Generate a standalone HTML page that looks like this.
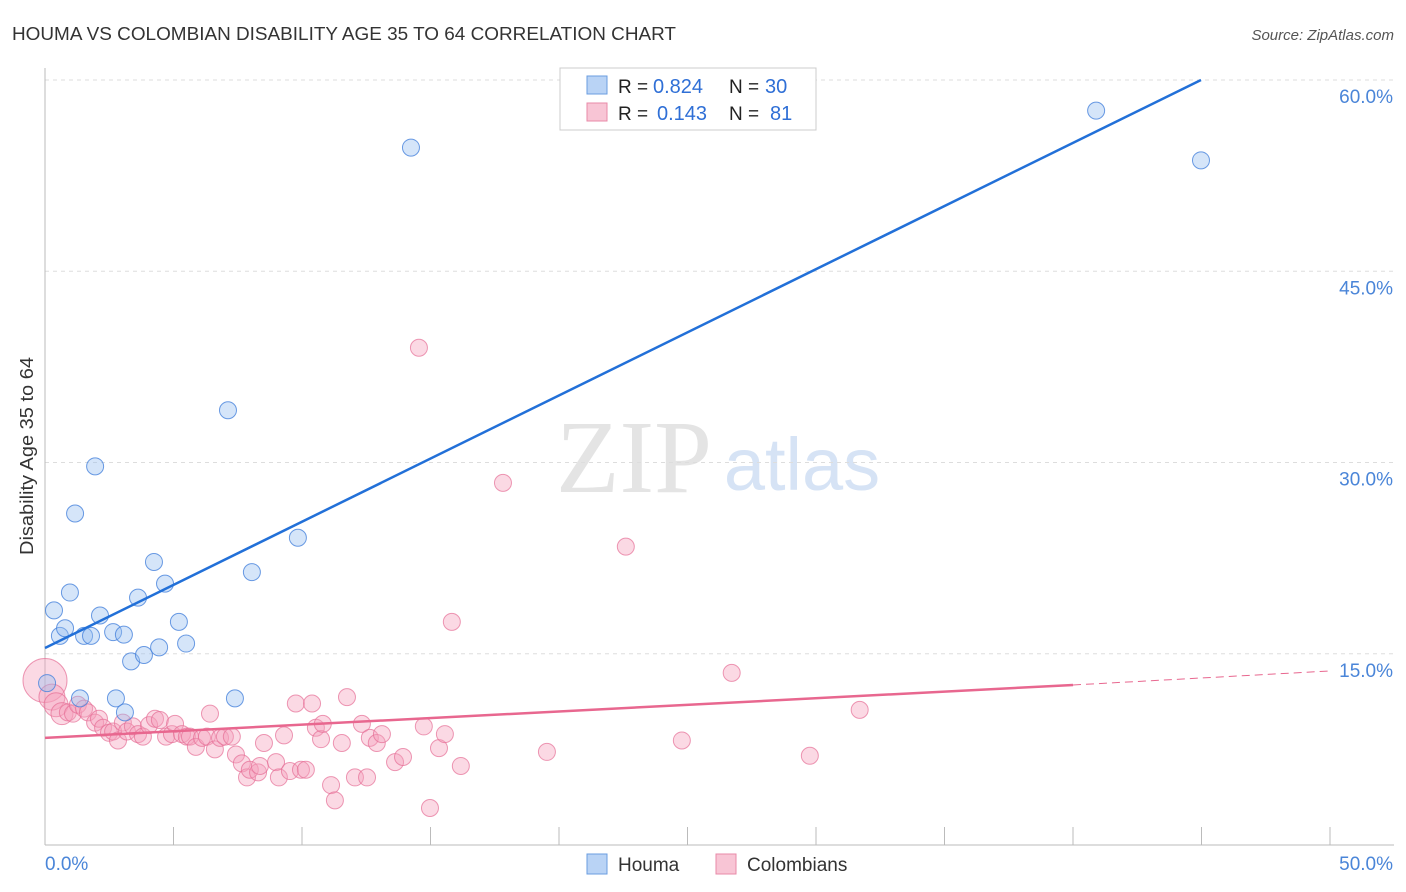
<!DOCTYPE html>
<html><head><meta charset="utf-8"><style>
body{margin:0;background:#fff;font-family:"Liberation Sans",sans-serif;}
svg{display:block}
</style></head><body>
<svg id="chart" width="1406" height="892">
<text x="12" y="40" font-size="18" fill="#333" textLength="664" lengthAdjust="spacingAndGlyphs">HOUMA VS COLOMBIAN DISABILITY AGE 35 TO 64 CORRELATION CHART</text>
<text x="1394" y="40" font-size="15" fill="#555" font-style="italic" text-anchor="end">Source: ZipAtlas.com</text>
<text x="634" y="492" font-size="104" fill="#e4e4e4" font-family="Liberation Serif,serif" text-anchor="middle">ZIP</text>
<text x="802" y="490" font-size="74" fill="#d6e3f5" text-anchor="middle">atlas</text>
<text transform="translate(33,456) rotate(-90)" font-size="18" fill="#333" text-anchor="middle" textLength="198" lengthAdjust="spacingAndGlyphs">Disability Age 35 to 64</text>
<g id="grid"></g><g id="axes"></g><g id="marks"></g>
<g>
<rect x="560" y="68" width="256" height="62" fill="#fff" stroke="#ccc"/>
<rect x="587" y="76" width="20" height="18" fill="#b9d3f5" stroke="#6a9de0"/>
<rect x="587" y="103" width="20" height="18" fill="#f8c5d5" stroke="#e88aa8"/>
<text x="618" y="93" font-size="19" fill="#222">R =</text>
<text x="653" y="93" font-size="20" fill="#2f6fd6">0.824</text>
<text x="729" y="93" font-size="19" fill="#222">N =</text>
<text x="765" y="93" font-size="20" fill="#2f6fd6">30</text>
<text x="618" y="120" font-size="19" fill="#222">R =</text>
<text x="657" y="120" font-size="20" fill="#2f6fd6">0.143</text>
<text x="729" y="120" font-size="19" fill="#222">N =</text>
<text x="770" y="120" font-size="20" fill="#2f6fd6">81</text>
</g>
<g>
<rect x="587" y="854" width="20" height="20" fill="#b9d3f5" stroke="#6a9de0"/>
<text x="618" y="871" font-size="19" fill="#333">Houma</text>
<rect x="716" y="854" width="20" height="20" fill="#f8c5d5" stroke="#e88aa8"/>
<text x="747" y="871" font-size="19" fill="#333">Colombians</text>
</g>
</svg>
<script>
const houmaX=[0.08,0.35,0.58,0.78,0.97,1.17,1.36,1.52,1.79,1.95,2.14,2.65,2.76,3.07,3.11,3.35,3.62,3.85,4.24,4.44,4.67,5.21,5.49,7.12,7.39,8.05,9.84,14.24,40.9,44.98];
const houmaY=[12.7,18.4,16.4,17.0,19.8,26.0,11.5,16.4,16.4,29.7,18.0,16.7,11.5,16.5,10.4,14.4,19.4,14.9,22.2,15.5,20.5,17.5,15.8,34.1,11.5,21.4,24.1,54.7,57.6,53.7];
const colX=[0,0.27,0.43,0.66,0.89,1.09,1.28,1.52,1.67,1.95,2.10,2.26,2.49,2.65,2.84,3.03,3.19,3.42,3.62,3.81,4.05,4.28,4.47,4.71,4.94,5.06,5.33,5.52,5.64,5.87,6.11,6.30,6.42,6.61,6.81,7.00,7.27,7.43,7.66,7.86,7.97,8.29,8.36,8.52,8.99,9.10,9.30,9.53,9.76,9.96,10.15,10.39,10.54,10.74,10.81,11.13,11.28,11.55,11.75,12.06,12.33,12.53,12.64,12.91,13.11,13.62,13.93,14.55,14.74,14.98,15.33,15.56,16.18,15.83,17.82,19.53,22.60,24.78,26.72,29.76,31.70];
const colY=[12.9,11.6,11.0,10.3,10.4,10.3,11.0,10.7,10.4,9.6,9.9,9.2,8.8,8.9,8.2,9.6,8.9,9.3,8.7,8.5,9.4,9.9,9.8,8.5,8.7,9.5,8.7,8.5,8.5,7.7,8.4,8.5,10.3,7.5,8.4,8.5,8.5,7.1,6.4,5.3,5.9,5.7,6.2,8.0,6.5,5.3,8.6,5.8,11.1,5.9,5.9,11.1,9.2,8.3,9.5,4.7,3.5,8.0,11.6,5.3,9.5,5.3,8.4,8.0,8.7,6.5,6.9,39.0,9.3,2.9,7.6,8.7,6.2,17.5,28.4,7.3,23.4,8.2,13.5,7.0,10.6];
const colSize=[22,13,12,11];
const yTicks=[15,30,45,60];
const xTickLabels=["0.0%","50.0%"];
const blueLine=[15.45,60];
const pinkLine=[8.4,12.55,13.65];
const NS='http://www.w3.org/2000/svg';
const sx=v=>45+v/50*1285, sy=v=>845-v/60*765;
function mk(t,a,p){const e=document.createElementNS(NS,t);for(const k in a)e.setAttribute(k,a[k]);p.appendChild(e);return e;}
const grid=document.getElementById('grid'),axes=document.getElementById('axes'),marks=document.getElementById('marks');
yTicks.forEach(t=>{
 const l=mk('line',{x1:45,x2:1394,y1:sy(t),y2:sy(t),stroke:'#ddd','stroke-dasharray':'4,4'},grid);
 
 
 const tx=mk('text',{x:1393,y:sy(t)+23,'font-size':19,fill:'#4a85d8','text-anchor':'end'},axes);
 tx.textContent=t.toFixed(1)+'%';
 
 
});
mk('line',{x1:45,x2:45,y1:68,y2:845,stroke:'#bbb'},axes);
mk('line',{x1:45,x2:1394,y1:845,y2:845,stroke:'#bbb'},axes);
for(let i=0;i<=10;i++){const x=sx(i*5);const t=mk('line',{x1:x,x2:x,y1:827,y2:845,stroke:'#bbb'},axes);
 
 }
const xl0=mk('text',{x:45,y:870,'font-size':19,fill:'#4a85d8'},axes);xl0.textContent=xTickLabels[0];


const xl1=mk('text',{x:1393,y:870,'font-size':19,fill:'#4a85d8','text-anchor':'end'},axes);xl1.textContent=xTickLabels[1];


colX.forEach((x,i)=>{const c=mk('circle',{cx:sx(x),cy:sy(colY[i]),r:colSize[i]||8.5,fill:'rgba(245,160,188,0.4)',stroke:'rgba(230,110,150,0.7)','stroke-width':1},marks);
 
 });
houmaX.forEach((x,i)=>{const c=mk('circle',{cx:sx(x),cy:sy(houmaY[i]),r:8.5,fill:'rgba(150,190,240,0.4)',stroke:'rgba(70,130,220,0.8)','stroke-width':1},marks);
 
 });
const bl=mk('line',{x1:sx(0),y1:sy(blueLine[0]),x2:sx(44.98),y2:sy(blueLine[1]),stroke:'#2270d8','stroke-width':2.5},marks);


const pl=mk('line',{x1:sx(0),y1:sy(pinkLine[0]),x2:sx(40),y2:sy(pinkLine[1]),stroke:'#e8678f','stroke-width':2.5},marks);


const pd=mk('line',{x1:sx(40),y1:sy(pinkLine[1]),x2:sx(50),y2:sy(pinkLine[2]),stroke:'#e8678f','stroke-width':1,'stroke-dasharray':'8,5'},marks);


</script>
</body></html>
